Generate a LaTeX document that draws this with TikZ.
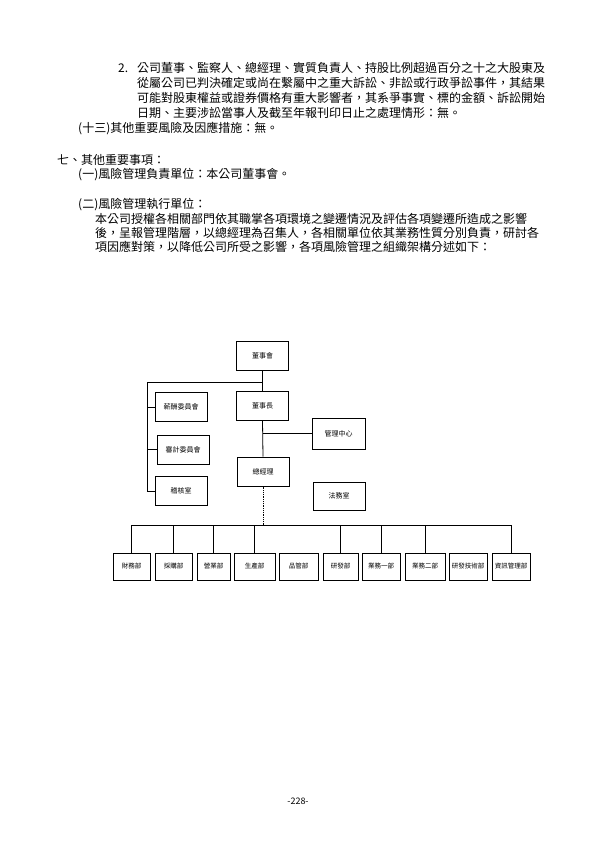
\documentclass[tikz,border=0pt]{standalone}
\usepackage{fontspec}
\setmainfont{Noto Sans CJK TC}
\usetikzlibrary{positioning}

\begin{document}
\begin{tikzpicture}[
    x=1pt, y=-1pt,
    txt/.style={anchor=base west, inner sep=0pt, font=\fontsize{12}{14}\selectfont},
    unit/.style={draw=black, line width=1pt, minimum width=52pt, minimum height=29pt,
                 inner sep=1pt, font=\fontsize{7}{8}\selectfont},
    dept/.style={draw=black, line width=0.8pt, minimum height=27pt,
                 inner sep=1pt, font=\fontsize{6.5}{8}\selectfont},
    link/.style={draw=black, line width=0.8pt},
]
\useasboundingbox (0,0) rectangle (595,842);

% ---------------------------------------------------------
% text above the chart
% ---------------------------------------------------------
\node[txt] (n2) at (118,73) {2.};
\node[txt] (l1) at (137,73) {公司董事、監察人、總經理、實質負責人、持股比例超過百分之十之大股東及};
\node[txt] (l2) at (137,88) {從屬公司已判決確定或尚在繫屬中之重大訴訟、非訟或行政爭訟事件，其結果};
\node[txt] (l3) at (137,103) {可能對股東權益或證券價格有重大影響者，其系爭事實、標的金額、訴訟開始};
\node[txt] (l4) at (137,118) {日期、主要涉訟當事人及截至年報刊印日止之處理情形：無。};
\node[txt] (l5) at (78,133) {(十三)其他重要風險及因應措施：無。};

\node[txt] (s7) at (57,165) {七、其他重要事項：};
\node[txt] (s71) at (78,179) {(一)風險管理負責單位：本公司董事會。};
\node[txt] (s72) at (78,208) {(二)風險管理執行單位：};
\node[txt] (b1) at (95,223) {本公司授權各相關部門依其職掌各項環境之變遷情況及評估各項變遷所造成之影響};
\node[txt] (b2) at (95,237) {後，呈報管理階層，以總經理為召集人，各相關單位依其業務性質分別負責，研討各};
\node[txt] (b3) at (95,251) {項因應對策，以降低公司所受之影響，各項風險管理之組織架構分述如下：};

% ---------------------------------------------------------
% organisation chart
% ---------------------------------------------------------
\node[unit] (board) at (262.5,356) {董事會};
\node[unit] (chair) at (262.5,406) {董事長};
\node[unit] (gm) at (263,471.5) {總經理};

\node[unit] (comp) at (181,407) {薪酬委員會};
\node[unit] (audit) at (183,449.5) {審計委員會};
\node[unit] (ia) at (181,491) {稽核室};

\node[unit, minimum width=53pt, minimum height=31pt] (mgmt) at (338.5,433.5) {管理中心};
\node[unit, minimum height=28pt] (legal) at (339,496) {法務室};

\coordinate (lb) at (147,382);
\draw[link] (board.south) -- (chair.north);
\draw[link] (lb) -- (board.south |- lb);
\draw[link] (lb) |- (ia.west);
\draw[link] (lb |- comp.west) -- (comp.west);
\draw[link] (lb |- audit.west) -- (audit.west);
\draw[link] (chair.south) -- (gm.north);
\draw[link] (chair.south |- mgmt.west) -- (mgmt.west);

% departments
\foreach \n/\x/\w/\t in {1/131.5/37/財務部, 2/173.5/37/採購部, 3/213.5/33/營業部,
    4/254.5/41/生產部, 5/298.5/39/品管部, 6/340.5/35/研發部, 7/381/38/業務一部,
    8/425/40/業務二部, 9/468/38/研發技術部, 10/511/38/資訊管理部}
  {\node[dept, minimum width=\w*1pt] (d\n) at (\x,566.5) {\t};}

\coordinate (bus) at (263,525);
\draw[link, densely dotted] (gm.south) -- (bus);
\draw[link] (d1.north |- bus) -- (d10.north |- bus);
\foreach \n in {1,2,3,4,6,7,8,10}
  {\draw[link] (d\n.north |- bus) -- (d\n.north);}

% page number
\node[inner sep=0pt, font=\fontsize{9}{10}\selectfont] (pg) at (298,801) {-228-};

\end{tikzpicture}
\end{document}
